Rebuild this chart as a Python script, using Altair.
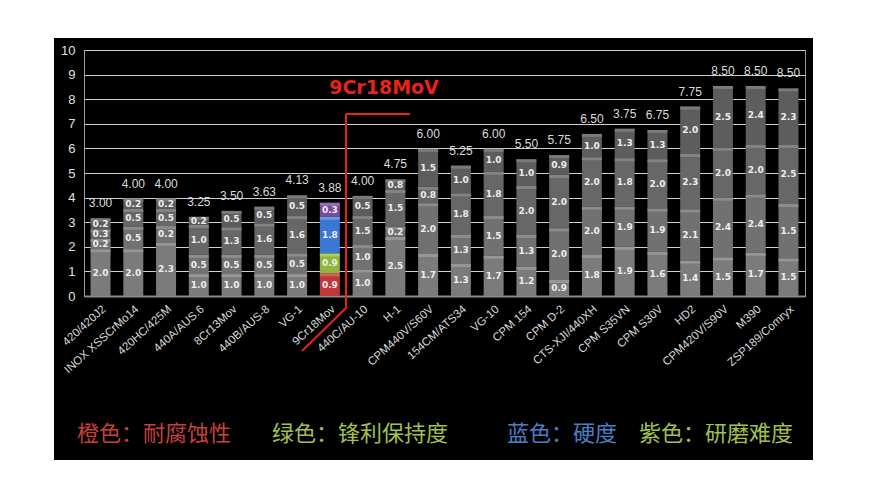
import altair as alt
import pandas as pd

categories = ["420/420J2", "INOX XSSCrMo14", "420HC/425M", "440A/AUS.6", "8Cr13Mov",
              "440B/AUS-8", "VG-1", "9Cr18Mov", "440C/AU-10", "H-1", "CPM440V/S60V",
              "154CM/ATS34", "VG-10", "CPM 154", "CPM D-2", "CTS-XJI/440XH", "CPM S35VN",
              "CPM S30V", "HD2", "CPM420V/S90V", "M390", "ZSP189/Comryx"]

# drawn heights of the four stacked segments (bottom -> top)
seg1_h = [1.90, 1.90, 2.17, 0.89, 0.89, 0.89, 0.89, 0.92, 1.08, 2.40, 1.71, 1.30, 1.64, 1.19, 0.65, 1.67, 2.00, 1.80, 1.44, 1.57, 1.76, 1.53]
seg2_h = [0.42, 0.92, 0.67, 0.78, 0.78, 0.78, 0.84, 0.81, 0.99, 0.42, 2.06, 1.18, 1.61, 1.29, 2.10, 1.96, 1.63, 1.76, 2.08, 2.43, 2.37, 2.21]
seg3_h = [0.39, 0.72, 0.70, 1.22, 1.12, 1.28, 1.52, 1.49, 1.18, 1.49, 0.67, 1.69, 1.80, 1.99, 2.17, 2.01, 1.97, 2.00, 2.25, 2.03, 2.01, 2.40]
seg4_h = [0.45, 0.42, 0.42, 0.33, 0.67, 0.68, 0.84, 0.57, 0.82, 0.43, 1.54, 1.13, 0.93, 1.09, 0.81, 0.95, 1.20, 1.19, 1.93, 2.51, 2.40, 2.30]

# printed segment labels (bottom -> top)
seg1_lbl = [2.0, 2.0, 2.3, 1.0, 1.0, 1.0, 1.0, 0.9, 1.0, 2.5, 1.7, 1.3, 1.7, 1.2, 0.9, 1.8, 1.9, 1.6, 1.4, 1.5, 1.7, 1.5]
seg2_lbl = [0.2, 0.5, 0.2, 0.5, 0.5, 0.5, 0.5, 0.9, 1.0, 0.2, 2.0, 1.3, 1.5, 1.3, 2.0, 2.0, 1.9, 1.9, 2.1, 2.4, 2.4, 1.5]
seg3_lbl = [0.3, 0.5, 0.5, 1.0, 1.3, 1.6, 1.6, 1.8, 1.5, 1.5, 0.8, 1.8, 1.8, 2.0, 2.0, 2.0, 1.8, 2.0, 2.3, 2.0, 2.0, 2.5]
seg4_lbl = [0.2, 0.2, 0.2, 0.2, 0.5, 0.5, 0.5, 0.3, 0.5, 0.8, 1.5, 1.0, 1.0, 1.0, 0.9, 1.0, 1.3, 1.3, 2.0, 2.5, 2.4, 2.3]

totals = ["3.00", "4.00", "4.00", "3.25", "3.50", "3.63", "4.13", "3.88", "4.00", "4.75", "6.00",
          "5.25", "6.00", "5.50", "5.75", "6.50", "3.75", "6.75", "7.75", "8.50", "8.50", "8.50"]

y_ticks = [0, 1, 2, 3, 4, 5, 6, 7, 8, 9, 10]

highlight = "9Cr18Mov"
gray_fill = ["#7b7b7b", "#717171", "#676767", "#5d5d5d"]
gray_top = ["#a2a2a2", "#999999", "#909090", "#888888"]
hl_fill = ["#c0363a", "#8fb53c", "#3a78d4", "#7a4a9e"]
hl_top = ["#e07070", "#b8d870", "#7aa8ec", "#a47cc4"]

legend_texts = ["橙色：耐腐蚀性", "绿色：锋利保持度", "蓝色：硬度", "紫色：研磨难度"]
legend_colors = ["#c8403c", "#a4c04c", "#4a80c8", "#a4c04c"]

rows = []
heights = [seg1_h, seg2_h, seg3_h, seg4_h]
labels = [seg1_lbl, seg2_lbl, seg3_lbl, seg4_lbl]
for i, c in enumerate(categories):
    start = 0.0
    for s in range(4):
        h = heights[s][i]
        end = start + h
        is_hl = c == highlight
        rows.append({
            "cat": c, "seg": s, "start": start, "end": end, "mid": (start + end) / 2,
            "lbl": f"{labels[s][i]:.1f}",
            "fill": hl_fill[s] if is_hl else gray_fill[s],
            "top": hl_top[s] if is_hl else gray_top[s],
        })
        start = end
df = pd.DataFrame(rows)
tot_df = pd.DataFrame({
    "cat": categories,
    "top": [sum(h[i] for h in heights) for i in range(len(categories))],
    "txt": totals,
})

W, H = 721, 246
xscale = alt.Scale(paddingInner=0.39, paddingOuter=0.2)
xaxis = alt.Axis(labelAngle=-42, labelFontSize=11.5, labelColor="#d8d8d8",
                 labelFont="Liberation Sans", ticks=False, domainColor="#8a8a8a",
                 domainWidth=2, labelPadding=7, grid=False, title=None)
yscale = alt.Scale(domain=[0, 10], nice=False)
yaxis = alt.Axis(values=y_ticks, labelColor="#e0e0e0", labelFontSize=13,
                 labelFont="Liberation Sans", ticks=False, domainColor="#9a9a9a",
                 gridColor="#cfcfcf", gridWidth=1, labelPadding=9, labelOverlap=False,
                 title=None)


def X():
    return alt.X("cat:N", sort=categories, scale=xscale, axis=xaxis)


def Y(field):
    return alt.Y(field, scale=yscale, axis=yaxis)


base = alt.Chart(df)
bars = base.mark_bar().encode(
    x=X(), y=Y("start:Q"), y2="end:Q",
    color=alt.Color("fill:N", scale=None),
)
tops = base.mark_tick(thickness=3, size=20, yOffset=1.5).encode(
    x=X(), y=Y("end:Q"),
    color=alt.Color("top:N", scale=None),
)
seglbl = base.mark_text(font="DejaVu Sans", fontWeight="bold", fontSize=9, color="#eeeeee").encode(
    x=X(), y=Y("mid:Q"), text="lbl:N",
)
totlbl = alt.Chart(tot_df).mark_text(font="Liberation Sans", fontSize=12, color="#dcdcdc",
                                     baseline="middle", dy=-15).encode(
    x=X(), y=Y("top:Q"), text="txt:N",
)

one = pd.DataFrame({"k": [0]})


def frame(x1, x2, y1, y2):
    return alt.Chart(one).mark_rect(color="white").encode(
        x=alt.value(x1), x2=alt.value(x2), y=alt.value(y1), y2=alt.value(y2))


frames = [frame(-80, -30, -50, 440), frame(729, 800, -50, 440),
          frame(-80, 800, -50, -12), frame(-80, 800, 410, 440)]


def red_rule(x1, y1, x2, y2):
    return alt.Chart(one).mark_rule(color="#e8231a", strokeWidth=2).encode(
        x=alt.value(x1), x2=alt.value(x2), y=alt.value(y1), y2=alt.value(y2))


red = [red_rule(262, 64, 326, 64), red_rule(262, 64, 262, 257), red_rule(263, 257, 218, 301)]

red_title = alt.Chart(one).mark_text(text="9Cr18MoV", font="DejaVu Sans", fontWeight="bold",
                                     fontSize=19, color="#e8231a").encode(
    x=alt.value(300), y=alt.value(38))

legend_x = [-7, 188, 423, 555]
legend_layers = [
    alt.Chart(one).mark_text(text=t, font="Noto Sans CJK SC", fontSize=22, color=col,
                             align="left", baseline="middle").encode(
        x=alt.value(lx), y=alt.value(384))
    for t, col, lx in zip(legend_texts, legend_colors, legend_x)
]

chart = alt.layer(bars, tops, seglbl, totlbl, *frames, *red, red_title, *legend_layers).properties(
    width=W, height=H,
    autosize=alt.AutoSizeParams(type="none"),
    padding={"left": 76, "top": 42, "right": 62, "bottom": 172},
    background="black",
).configure_view(stroke="#9a9a9a", strokeWidth=1)

chart.save("out.html", embed_options={"renderer": "svg", "actions": False})
